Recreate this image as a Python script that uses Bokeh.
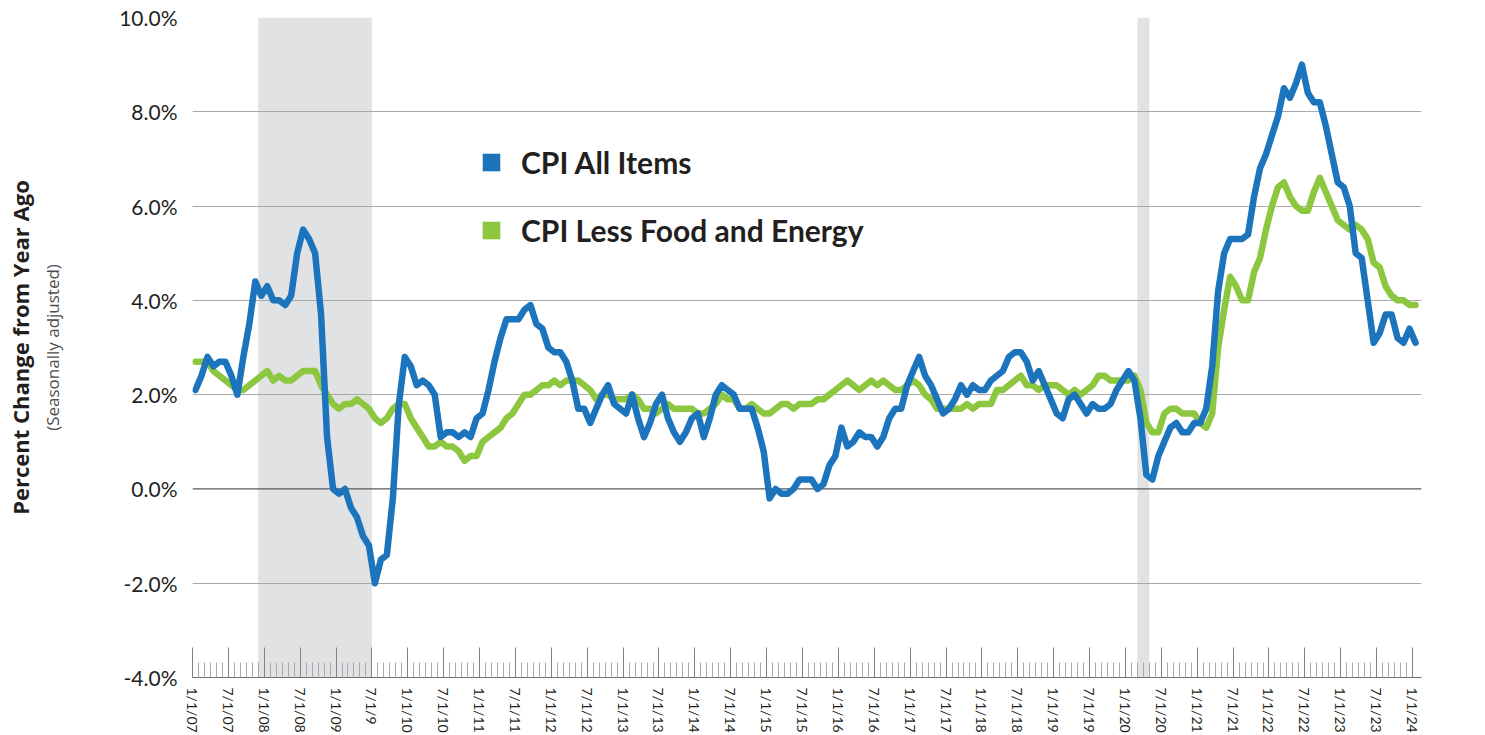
from bokeh.plotting import figure
from bokeh.models import (FixedTicker, PrintfTickFormatter, LinearAxis, Range1d, Span,
                          BoxAnnotation, Legend, LegendItem, Label, ColumnDataSource)
from bokeh.embed import file_html
from bokeh.resources import INLINE

# Monthly year-over-year % change, Jan 2007 .. Jan 2024 (index 0 = Jan 2007)
cpi_all_items = [
    2.1, 2.4, 2.8, 2.6, 2.7, 2.7, 2.4, 2.0, 2.8, 3.5, 4.4, 4.1,      # 2007
    4.3, 4.0, 4.0, 3.9, 4.1, 5.0, 5.5, 5.3, 5.0, 3.7, 1.1, 0.0,      # 2008
    -0.1, 0.0, -0.4, -0.6, -1.0, -1.2, -2.0, -1.5, -1.4, -0.2, 1.8, 2.8,  # 2009
    2.6, 2.2, 2.3, 2.2, 2.0, 1.1, 1.2, 1.2, 1.1, 1.2, 1.1, 1.5,      # 2010
    1.6, 2.1, 2.7, 3.2, 3.6, 3.6, 3.6, 3.8, 3.9, 3.5, 3.4, 3.0,      # 2011
    2.9, 2.9, 2.7, 2.3, 1.7, 1.7, 1.4, 1.7, 2.0, 2.2, 1.8, 1.7,      # 2012
    1.6, 2.0, 1.5, 1.1, 1.4, 1.8, 2.0, 1.5, 1.2, 1.0, 1.2, 1.5,      # 2013
    1.6, 1.1, 1.5, 2.0, 2.2, 2.1, 2.0, 1.7, 1.7, 1.7, 1.3, 0.8,      # 2014
    -0.2, 0.0, -0.1, -0.1, 0.0, 0.2, 0.2, 0.2, 0.0, 0.1, 0.5, 0.7,   # 2015
    1.3, 0.9, 1.0, 1.2, 1.1, 1.1, 0.9, 1.1, 1.5, 1.7, 1.7, 2.2,      # 2016
    2.5, 2.8, 2.4, 2.2, 1.9, 1.6, 1.7, 1.9, 2.2, 2.0, 2.2, 2.1,      # 2017
    2.1, 2.3, 2.4, 2.5, 2.8, 2.9, 2.9, 2.7, 2.3, 2.5, 2.2, 1.9,      # 2018
    1.6, 1.5, 1.9, 2.0, 1.8, 1.6, 1.8, 1.7, 1.7, 1.8, 2.1, 2.3,      # 2019
    2.5, 2.3, 1.5, 0.3, 0.2, 0.7, 1.0, 1.3, 1.4, 1.2, 1.2, 1.4,      # 2020
    1.4, 1.7, 2.6, 4.2, 5.0, 5.3, 5.3, 5.3, 5.4, 6.2, 6.8, 7.1,      # 2021
    7.5, 7.9, 8.5, 8.3, 8.6, 9.0, 8.4, 8.2, 8.2, 7.7, 7.1, 6.5,      # 2022
    6.4, 6.0, 5.0, 4.9, 4.0, 3.1, 3.3, 3.7, 3.7, 3.2, 3.1, 3.4,      # 2023
    3.1,                                                              # 2024
]
cpi_less_food_energy = [
    2.7, 2.7, 2.7, 2.5, 2.4, 2.3, 2.2, 2.1, 2.1, 2.2, 2.3, 2.4,      # 2007
    2.5, 2.3, 2.4, 2.3, 2.3, 2.4, 2.5, 2.5, 2.5, 2.2, 2.0, 1.8,      # 2008
    1.7, 1.8, 1.8, 1.9, 1.8, 1.7, 1.5, 1.4, 1.5, 1.7, 1.8, 1.8,      # 2009
    1.5, 1.3, 1.1, 0.9, 0.9, 1.0, 0.9, 0.9, 0.8, 0.6, 0.7, 0.7,      # 2010
    1.0, 1.1, 1.2, 1.3, 1.5, 1.6, 1.8, 2.0, 2.0, 2.1, 2.2, 2.2,      # 2011
    2.3, 2.2, 2.3, 2.3, 2.3, 2.2, 2.1, 1.9, 2.0, 2.0, 1.9, 1.9,      # 2012
    1.9, 2.0, 1.9, 1.7, 1.7, 1.6, 1.7, 1.8, 1.7, 1.7, 1.7, 1.7,      # 2013
    1.6, 1.6, 1.7, 1.8, 2.0, 1.9, 1.9, 1.7, 1.7, 1.8, 1.7, 1.6,      # 2014
    1.6, 1.7, 1.8, 1.8, 1.7, 1.8, 1.8, 1.8, 1.9, 1.9, 2.0, 2.1,      # 2015
    2.2, 2.3, 2.2, 2.1, 2.2, 2.3, 2.2, 2.3, 2.2, 2.1, 2.1, 2.2,      # 2016
    2.3, 2.2, 2.0, 1.9, 1.7, 1.7, 1.7, 1.7, 1.7, 1.8, 1.7, 1.8,      # 2017
    1.8, 1.8, 2.1, 2.1, 2.2, 2.3, 2.4, 2.2, 2.2, 2.1, 2.2, 2.2,      # 2018
    2.2, 2.1, 2.0, 2.1, 2.0, 2.1, 2.2, 2.4, 2.4, 2.3, 2.3, 2.3,      # 2019
    2.3, 2.4, 2.1, 1.4, 1.2, 1.2, 1.6, 1.7, 1.7, 1.6, 1.6, 1.6,      # 2020
    1.4, 1.3, 1.6, 3.0, 3.8, 4.5, 4.3, 4.0, 4.0, 4.6, 4.9, 5.5,      # 2021
    6.0, 6.4, 6.5, 6.2, 6.0, 5.9, 5.9, 6.3, 6.6, 6.3, 6.0, 5.7,      # 2022
    5.6, 5.5, 5.6, 5.5, 5.3, 4.8, 4.7, 4.3, 4.1, 4.0, 4.0, 3.9,      # 2023
    3.9,                                                              # 2024
]
series_names = ["CPI All Items", "CPI Less Food and Energy"]

x_tick_labels = [
    "1/1/07", "7/1/07", "1/1/08", "7/1/08", "1/1/09", "7/1/9", "1/1/10", "7/1/10",
    "1/1/11", "7/1/11", "1/1/12", "7/1/12", "1/1/13", "7/1/13", "1/1/14", "7/1/14",
    "1/1/15", "7/1/15", "1/1/16", "7/1/16", "1/1/17", "7/1/17", "1/1/18", "7/1/18",
    "1/1/19", "7/1/19", "1/1/20", "7/1/20", "1/1/21", "7/1/21", "1/1/22", "7/1/22",
    "1/1/23", "7/1/23", "1/1/24",
]
y_ticks = [-4, -2, 0, 2, 4, 6, 8, 10]
# recession periods as month indexes (start, end)
recessions = [(11, 30), (158, 160)]

BLUE = "#1c75bc"
GREEN = "#8dc63f"
TEXT = "#231f20"

n = len(cpi_all_items)
month_index = list(range(n))
x_center = [m + 0.5 for m in month_index]   # each month occupies one category slot

source = ColumnDataSource(dict(x=x_center, all_items=cpi_all_items, core=cpi_less_food_energy))

p = figure(width=1485, height=735, x_range=Range1d(0, n + 0.5), y_range=Range1d(-4, 10),
           output_backend="svg", toolbar_location=None,
           min_border_left=192, min_border_right=64, min_border_top=17, min_border_bottom=0)
p.outline_line_color = None
p.background_fill_color = "white"
p.border_fill_color = "white"

# recession shading
for start, end in recessions:
    p.add_layout(BoxAnnotation(left=start, right=end, fill_color="#e1e2e4", fill_alpha=1.0,
                               line_color=None, level="image"))

# grid
p.xgrid.grid_line_color = None
p.ygrid.ticker = FixedTicker(ticks=[t for t in y_ticks if t not in (0, -4)])
p.ygrid.grid_line_color = "#a7a9ac"
p.ygrid.grid_line_width = 1
p.add_layout(Span(location=0, dimension="width", line_color="#58595b", line_width=1.2, level="underlay"))

# lines
p.line("x", "core", source=source, line_color=GREEN, line_width=6.5, line_join="round", line_cap="round")
p.line("x", "all_items", source=source, line_color=BLUE, line_width=6.5, line_join="round", line_cap="round")

# end labels
for vals, dy in ((cpi_less_food_energy, 3), (cpi_all_items, 5)):
    p.add_layout(Label(x=x_center[-1], y=vals[-1], text=f"{vals[-1]:.1f}%", x_offset=12, y_offset=dy,
                       text_baseline="middle", text_align="left", text_font="Lato",
                       text_font_style="bold", text_font_size="23px", text_color=TEXT))

# legend with square markers
nan = float("nan")
proxy_all = p.scatter(x=[nan], y=[nan], marker="square", size=18, fill_color=BLUE, line_color=None)
proxy_core = p.scatter(x=[nan], y=[nan], marker="square", size=18, fill_color=GREEN, line_color=None)
legend = Legend(items=[LegendItem(label=series_names[0], renderers=[proxy_all]),
                       LegendItem(label=series_names[1], renderers=[proxy_core])],
                location=(277, 425), orientation="vertical",
                glyph_width=44, glyph_height=44, spacing=24, padding=0, margin=0, label_standoff=8,
                label_text_font="Lato", label_text_font_style="bold", label_text_font_size="30px",
                label_text_color=TEXT, border_line_color=None, background_fill_alpha=0)
p.add_layout(legend)

# x axis
x_ticks = list(range(0, n, 6))
x_minor = [m for m in range(0, n) if m % 6 != 0]
xax = p.xaxis[0]
xax.ticker = FixedTicker(ticks=x_ticks, minor_ticks=x_minor)
xax.major_label_overrides = {t: lab for t, lab in zip(x_ticks, x_tick_labels)}
xax.major_label_orientation = "vertical"
xax.major_tick_in = 30
xax.major_tick_out = 0
xax.minor_tick_in = 15
xax.minor_tick_out = 0
xax.axis_line_color = "#6d6e71"
xax.major_tick_line_color = "#808285"
xax.minor_tick_line_color = "#a7a9ac"
xax.major_label_standoff = 10
xax.major_label_text_font = "Lato"
xax.major_label_text_font_size = "14px"
xax.major_label_text_color = TEXT

# y axis
yax = p.yaxis[0]
yax.ticker = FixedTicker(ticks=y_ticks)
yax.formatter = PrintfTickFormatter(format="%.1f%%")
yax.axis_line_color = None
yax.major_tick_in = 0
yax.major_tick_out = 0
yax.minor_tick_in = 0
yax.minor_tick_out = 0
yax.major_label_standoff = 15
yax.major_label_text_font = "Lato"
yax.major_label_text_font_size = "21px"
yax.major_label_text_color = TEXT
yax.axis_label = "(Seasonally adjusted)"
yax.axis_label_text_font = "Open Sans"
yax.axis_label_text_font_style = "normal"
yax.axis_label_text_font_size = "17px"
yax.axis_label_text_color = "#4d4d4f"
yax.axis_label_standoff = 52

outer = LinearAxis(ticker=FixedTicker(ticks=[]), axis_label="Percent Change from Year Ago",
                   axis_line_color=None, major_tick_in=0, major_tick_out=0,
                   minor_tick_in=0, minor_tick_out=0, axis_label_standoff=4,
                   axis_label_text_font="Open Sans", axis_label_text_font_style="bold",
                   axis_label_text_font_size="22px", axis_label_text_color=TEXT)
p.add_layout(outer, "left")

open("out.html", "w").write(file_html(p, INLINE))
